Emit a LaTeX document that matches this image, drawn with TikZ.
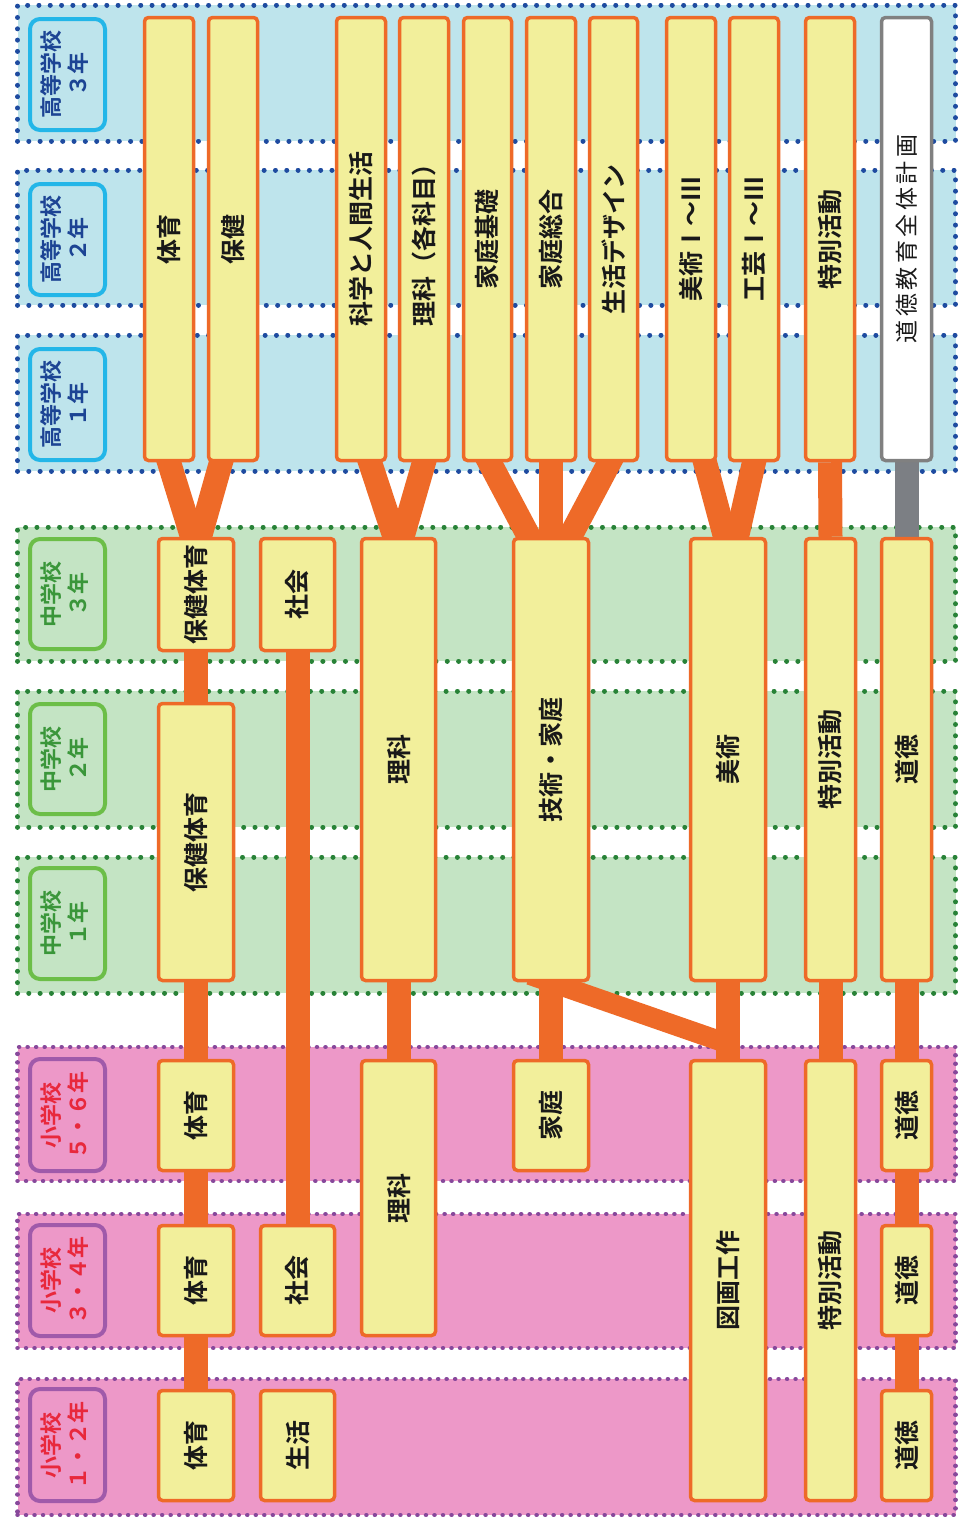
\documentclass[tikz,border=0pt]{standalone}
\usepackage{fontspec}
\usepackage{graphicx}
\setmainfont{Noto Sans CJK JP}[BoldFont={Noto Sans CJK JP Bold}]
\newfontfamily\jpspaced{Noto Sans CJK JP}[LetterSpace=15]
\usetikzlibrary{calc}
\definecolor{hsfill}{RGB}{190,228,236}
\definecolor{hsdot}{RGB}{30,75,160}
\definecolor{hsline}{RGB}{35,182,232}
\definecolor{hstext}{RGB}{28,68,148}
\definecolor{msfill}{RGB}{196,228,196}
\definecolor{msdot}{RGB}{40,130,55}
\definecolor{msline}{RGB}{108,190,72}
\definecolor{mstext}{RGB}{58,150,58}
\definecolor{esfill}{RGB}{237,152,200}
\definecolor{esdot}{RGB}{135,72,155}
\definecolor{esline}{RGB}{160,90,170}
\definecolor{estext}{RGB}{232,40,60}
\definecolor{orng}{RGB}{238,106,40}
\definecolor{yel}{RGB}{242,239,155}
\definecolor{grybar}{RGB}{124,127,132}
\definecolor{grybox}{RGB}{128,128,128}
\definecolor{ink}{RGB}{25,25,25}
\pgfdeclarelayer{bandlayer}
\pgfdeclarelayer{connlayer}
\pgfsetlayers{bandlayer,connlayer,main}
\newcommand\colnode[7]{\node[#1, minimum width={#4pt-#3pt-3pt}, minimum height={#6pt-#5pt-3pt}] (#2) at ({(#3+#4)/2},{(#5+#6)/2}) {\rotatebox{90}{#7}};}
\newcommand\bandnode[4]{\node[#1, minimum width=938pt, minimum height={#4pt-#3pt-4pt}] (#2) at (486.5,{(#3+#4)/2}) {};}
\newcommand\lblnode[6]{\node[#1, minimum width=75pt, minimum height={#4pt-#3pt-4pt}] (#2) at (67.5,{(#3+#4)/2}) {\rotatebox{90}{\begin{tabular}{@{}c@{}}#5\\#6\end{tabular}}};}
\newcommand\armline[3][conn]{\draw[#1] ($(#2)!-0.12!(#3)$) -- ($(#2)!1.12!(#3)$);}
\tikzset{
 band/.style={inner sep=0pt, line width=5pt, dash pattern=on 0.01pt off 11.3pt, line cap=round},
 hsband/.style={band, fill=hsfill, draw=hsdot},
 msband/.style={band, fill=msfill, draw=msdot},
 esband/.style={band, fill=esfill, draw=esdot, line width=4.5pt, dash pattern=on 0.01pt off 8.5pt},
 lbl/.style={rounded corners=10pt, line width=4pt, inner sep=0pt, font=\bfseries\fontsize{22}{26}\selectfont},
 hslbl/.style={lbl, draw=hsline, fill=hsfill, text=hstext},
 mslbl/.style={lbl, draw=msline, fill=msfill, text=mstext},
 eslbl/.style={lbl, draw=esline, fill=esfill, text=estext},
 col/.style={draw=orng, fill=yel, line width=3.5pt, rounded corners=4pt, inner sep=0pt, text=ink, font=\bfseries\fontsize{25}{30}\selectfont},
 plancol/.style={col, draw=grybox, fill=white, font=\jpspaced\fontsize{23}{28}\selectfont},
 conn/.style={draw=orng, line width=24pt},
 grayconn/.style={conn, draw=grybar},
}
\begin{document}
\begin{tikzpicture}[x=1pt,y=-1pt]
\useasboundingbox (0,0) rectangle (961,1529);
\begin{pgfonlayer}{bandlayer}
\fill[white] (0,0) rectangle (961,1529);
\bandnode{hsband}{bhs3}{3}{143}
\bandnode{hsband}{bhs2}{168}{307}
\bandnode{hsband}{bhs1}{333}{473}
\bandnode{msband}{bms3}{525}{663}
\bandnode{msband}{bms2}{689}{829}
\bandnode{msband}{bms1}{855}{995}
\bandnode{esband}{bes56}{1045}{1183}
\bandnode{esband}{bes34}{1212}{1350}
\bandnode{esband}{bes12}{1377}{1517}
\end{pgfonlayer}
% grade labels
\lblnode{hslbl}{lhs3}{17}{132}{高等学校}{３年}
\lblnode{hslbl}{lhs2}{182}{297}{高等学校}{２年}
\lblnode{hslbl}{lhs1}{347}{462}{高等学校}{１年}
\lblnode{mslbl}{lms3}{537}{651}{中学校}{３年}
\lblnode{mslbl}{lms2}{702}{816}{中学校}{２年}
\lblnode{mslbl}{lms1}{866}{981}{中学校}{１年}
\lblnode{eslbl}{les56}{1057}{1173}{小学校}{５・６年}
\lblnode{eslbl}{les34}{1223}{1338}{小学校}{３・４年}
\lblnode{eslbl}{les12}{1387}{1503}{小学校}{１・２年}
% high school
\colnode{col}{taih}{143}{195}{16}{462}{体育}
\colnode{col}{hokenh}{207}{259}{16}{462}{保健}
\colnode{col}{kagaku}{335}{387}{16}{462}{科学と人間生活}
\colnode{col}{rikah}{398}{450}{16}{462}{理科（各科目）}
\colnode{col}{kateik}{462}{513}{16}{462}{家庭基礎}
\colnode{col}{kateis}{525}{577}{16}{462}{家庭総合}
\colnode{col}{design}{588}{639}{16}{462}{生活デザイン}
\colnode{col}{bijutsuh}{665}{717}{16}{462}{美術Ⅰ～Ⅲ}
\colnode{col}{kogei}{728}{780}{16}{462}{工芸Ⅰ～Ⅲ}
\colnode{col}{tokkatsuh}{804}{856}{16}{462}{特別活動}
\colnode{plancol}{doutokuh}{880}{933}{16}{462}{道徳教育全体計画}
% junior high
\colnode{col}{hotaiA}{157}{235}{537}{652}{保健体育}
\colnode{col}{shakaim}{259}{336}{537}{652}{社会}
\colnode{col}{hotaiB}{157}{235}{702}{982}{保健体育}
\colnode{col}{rikam}{360}{437}{537}{982}{理科}
\colnode{col}{gika}{512}{590}{537}{982}{技術・家庭}
\colnode{col}{bijutsum}{689}{767}{537}{982}{美術}
\colnode{col}{tokkatsum}{804}{857}{537}{982}{特別活動}
\colnode{col}{doutokum}{880}{933}{537}{982}{道徳}
% elementary
\colnode{col}{taiC}{157}{235}{1059}{1172}{体育}
\colnode{col}{taiB}{157}{235}{1224}{1337}{体育}
\colnode{col}{taiA}{157}{235}{1389}{1502}{体育}
\colnode{col}{shakaie}{259}{336}{1224}{1337}{社会}
\colnode{col}{seikatsu}{259}{336}{1389}{1502}{生活}
\colnode{col}{rikae}{360}{437}{1059}{1337}{理科}
\colnode{col}{kateie}{512}{590}{1059}{1172}{家庭}
\colnode{col}{zuga}{689}{767}{1059}{1502}{図画工作}
\colnode{col}{tokkatsue}{804}{857}{1059}{1502}{特別活動}
\colnode{col}{douC}{880}{933}{1059}{1172}{道徳}
\colnode{col}{douB}{880}{933}{1224}{1337}{道徳}
\colnode{col}{douA}{880}{933}{1389}{1502}{道徳}
% arm end points
\coordinate (aT1) at (taih.south);
\coordinate (aT2) at ($(hotaiA.north)+(-4,0)$);
\coordinate (aH1) at ($(hokenh.south)+(-12,0)$);
\coordinate (aH2) at ($(hotaiA.north)+(4,0)$);
\coordinate (aK1) at ($(kagaku.south)+(9,0)$);
\coordinate (aK2) at ($(rikam.north)+(-4,0)$);
\coordinate (aR1) at (rikah.south);
\coordinate (aR2) at ($(rikam.north)+(4,0)$);
\coordinate (aB1) at ($(kateik.south)+(2,0)$);
\coordinate (aB2) at ($(gika.north)+(-22,0)$);
\coordinate (aS1) at (kateis.south);
\coordinate (aS2) at (gika.north);
\coordinate (aD1) at ($(design.south)+(-4,0)$);
\coordinate (aD2) at ($(gika.north)+(19,0)$);
\coordinate (aM1) at ($(bijutsuh.south)+(14,0)$);
\coordinate (aM2) at ($(bijutsum.north)+(-3,0)$);
\coordinate (aG1) at (kogei.south);
\coordinate (aG2) at ($(bijutsum.north)+(9,0)$);
\coordinate (dgEnd) at ($(zuga.north)+(0,-15)$);
\begin{pgfonlayer}{connlayer}
\draw[conn] (taiA.north) -- (taiB.south);
\draw[conn] (taiB.north) -- (taiC.south);
\draw[conn] (taiC.north) -- (hotaiB.south);
\draw[conn] (hotaiB.north) -- (hotaiA.south);
\draw[conn] (shakaie.north) -- (shakaim.south);
\draw[conn] (rikae.north) -- (rikam.south);
\draw[conn] (kateie.north) -- (gika.south);
\draw[conn] (zuga.north) -- (bijutsum.south);
\draw[conn] (tokkatsue.north) -- (tokkatsum.south);
\draw[conn] (douA.north) -- (douB.south);
\draw[conn] (douB.north) -- (douC.south);
\draw[conn] (douC.north) -- (doutokum.south);
\draw[conn] (tokkatsum.north) -- (tokkatsuh.south);
\draw[grayconn] (doutokum.north) -- (doutokuh.south);
\draw[conn, line width=20pt] ($(gika.south)!-0.12!(dgEnd)$) -- (dgEnd);
\armline{aT1}{aT2}
\armline{aH1}{aH2}
\armline{aK1}{aK2}
\armline{aR1}{aR2}
\armline{aB1}{aB2}
\armline{aS1}{aS2}
\armline{aD1}{aD2}
\armline{aM1}{aM2}
\armline{aG1}{aG2}
\end{pgfonlayer}
\end{tikzpicture}
\end{document}
